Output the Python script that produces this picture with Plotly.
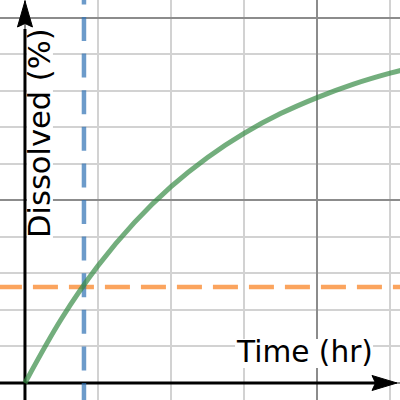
import plotly.graph_objects as go

# Dissolution curve (Time in hr, Dissolved in %)
time_hr = [0.0, 0.25, 0.5, 0.75, 1.0, 1.25, 1.5, 1.75, 2.0, 2.25, 2.5, 2.6]
dissolved_pct = [0.0, 17.6, 32.1, 44.0, 53.8, 61.8, 68.4, 73.8, 78.2, 81.9, 84.9, 85.9]

# Reference lines
target_time = 0.404
target_pct = 26.3

x_label = "Time (hr)"
y_label = "Dissolved (%)"

x_range = [-0.171, 2.568]
y_range = [-4.66, 104.93]

FONT = "DejaVu Sans"

# label anchor positions (data units)
xlab_pos = (1.911, 8.5)
ylab_pos = (0.0985, 68.6)

fig = go.Figure()

fig.add_trace(go.Scatter(
    x=[x_range[0] - 0.021, 2.7], y=[target_pct, target_pct], mode="lines",
    line=dict(color="rgba(250,126,25,0.7)", width=4.5, dash="25px,11px"),
    hoverinfo="skip", showlegend=False))
fig.add_trace(go.Scatter(
    x=[target_time, target_time], y=[110.3, y_range[0] - 2], mode="lines",
    line=dict(color="rgba(45,112,179,0.7)", width=4.5, dash="24px,12.6px"),
    hoverinfo="skip", showlegend=False))
fig.add_trace(go.Scatter(
    x=time_hr, y=dissolved_pct, mode="lines",
    line=dict(color="rgba(56,140,70,0.7)", width=5, shape="spline"),
    hoverinfo="skip", showlegend=False))

axis_common = dict(showticklabels=False, ticks="", zeroline=False, showline=False,
                   showgrid=True, gridcolor="#8c8c8c", gridwidth=1.5)
fig.update_xaxes(range=x_range, tick0=0, dtick=2,
                 minor=dict(dtick=0.5, tick0=0, showgrid=True, gridcolor="#d2d2d2", gridwidth=1.5),
                 **axis_common)
fig.update_yaxes(range=y_range, tick0=0, dtick=50,
                 minor=dict(dtick=10, tick0=0, showgrid=True, gridcolor="#d2d2d2", gridwidth=1.5),
                 **axis_common)

shapes = [
    # white knock-out behind the labels
    dict(type="rect", xref="x", yref="y", xsizemode="pixel", ysizemode="pixel",
         xanchor=xlab_pos[0], yanchor=xlab_pos[1], x0=-69, x1=69, y0=-16, y1=13,
         fillcolor="white", line=dict(width=0), layer="between"),
    dict(type="rect", xref="x", yref="y", xsizemode="pixel", ysizemode="pixel",
         xanchor=ylab_pos[0], yanchor=ylab_pos[1], x0=-12.4, x1=13.6, y0=-106.5, y1=104.5,
         fillcolor="white", line=dict(width=0), layer="between"),
    # y axis shaft
    dict(type="line", x0=0, x1=0, y0=y_range[0] - 1, y1=97.0, xref="x", yref="y",
         line=dict(color="black", width=3), layer="between"),
    # x axis shaft
    dict(type="line", x0=x_range[0] - 0.1, x1=2.40, y0=0, y1=0, xref="x", yref="y",
         line=dict(color="black", width=3), layer="between"),
    # y arrowhead
    dict(type="path", xref="x", yref="y", xsizemode="pixel", ysizemode="pixel",
         xanchor=0, yanchor=y_range[1],
         path="M0,-1 L-7.5,-27 L0,-23.5 L7.5,-27 Z",
         fillcolor="black", line=dict(color="black", width=1), layer="between"),
    # x arrowhead
    dict(type="path", xref="x", yref="y", xsizemode="pixel", ysizemode="pixel",
         xanchor=x_range[1], yanchor=0,
         path="M-3,0 L-28,7.5 L-24.5,0 L-28,-7.5 Z",
         fillcolor="black", line=dict(color="black", width=1), layer="between"),
]

annotations = [
    dict(x=xlab_pos[0], y=xlab_pos[1], xref="x", yref="y", text=x_label, showarrow=False,
         font=dict(family=FONT, size=29.6, color="black"),
         xanchor="center", yanchor="middle"),
    dict(x=ylab_pos[0], y=ylab_pos[1], xref="x", yref="y", text=y_label, showarrow=False,
         textangle=-90, font=dict(family=FONT, size=30.5, color="black"),
         xanchor="center", yanchor="middle"),
]

fig.update_layout(width=400, height=400, margin=dict(l=0, r=0, t=0, b=0),
                  paper_bgcolor="white", plot_bgcolor="white",
                  shapes=shapes, annotations=annotations, showlegend=False)

fig.write_html("out.html", config={"displayModeBar": False},
               post_script="document.body.style.margin='0';")
